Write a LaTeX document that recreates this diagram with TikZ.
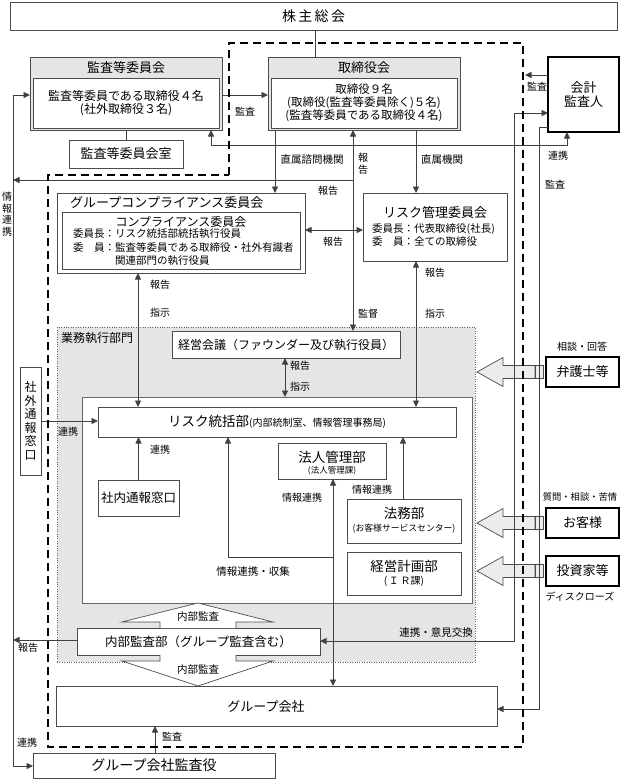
\documentclass[tikz,border=0pt]{standalone}
\usepackage{fontspec}
\setmainfont{Noto Sans CJK JP}
\usetikzlibrary{arrows.meta}
\newcommand\fsz[2]{\fontsize{#1}{#2}\selectfont}
\begin{document}
\begin{tikzpicture}[x=1pt,y=-1pt,
  ln/.style={draw=black!75, line width=0.8pt},
  box/.style={draw=black!70, line width=0.8pt, fill=white, inner sep=0pt, outer sep=0pt, align=center},
  hbox/.style={box, fill=gray!20},
  tbox/.style={box, draw=black, line width=1.8pt},
  txt/.style={inner sep=0pt, align=center},
  lab/.style={inner sep=0pt, align=center, font=\fsz{10}{12}},
  arr/.style={ln, -{Triangle[length=6.5pt,width=6pt]}},
  darr/.style={ln, {Triangle[length=6.5pt,width=6pt]}-{Triangle[length=6.5pt,width=6pt]}},
  bigarr/.style={draw=black!70, fill=gray!15, line width=0.7pt},
  naiarr/.style={draw=black!70, fill=white, line width=0.7pt},
  bound/.style={draw=black, line width=2.5pt, dash pattern=on 8pt off 5pt}
]
\useasboundingbox (0,0) rectangle (620,779);

% business execution region
\node[draw=black!60, dotted, fill=gray!20, minimum width=418pt, minimum height=335pt, inner sep=0pt] (gyomu) at (266,494.5) {};
\node[txt, anchor=west, font=\fsz{12}{14}] (gyomuT) at (61,338) {業務執行部門};
\node[box, draw=black!60, minimum width=390pt, minimum height=206pt] (inner) at (277,500) {};

% top
\node[box, minimum width=607pt, minimum height=28pt, font=\fsz{14}{16}] (kabu) at (313.5,16) {株\,主\,総\,会};

\node[hbox, minimum width=192pt, minimum height=73pt] (kansa) at (126,93.5) {};
\node[txt, font=\fsz{13}{15}] (kansaT) at (126,68) {監査等委員会};
\node[box, minimum width=186pt, minimum height=50pt, font=\fsz{12}{13.5}] (kansaIn) at (126,103) {監査等委員である取締役４名\\(社外取締役３名)};
\node[box, minimum width=114pt, minimum height=28pt, font=\fsz{13}{15}] (shitsu) at (126,154) {監査等委員会室};

\node[hbox, minimum width=192pt, minimum height=73pt] (tori) at (364,93.5) {};
\node[txt, font=\fsz{13}{15}] (toriT) at (364,68) {取締役会};
\node[box, minimum width=186pt, minimum height=50pt, font=\fsz{11.5}{13}] (toriIn) at (364,103) {取締役９名\\(取締役(監査等委員除く)５名)\\(監査等委員である取締役４名)};

\node[tbox, minimum width=71pt, minimum height=75pt, font=\fsz{13}{14.5}] (kaikei) at (583.5,94.5) {会計\\監査人};

% compliance
\node[box, minimum width=248pt, minimum height=80pt] (gcomp) at (181,233) {};
\node[txt, anchor=west, font=\fsz{13}{15}] (gcompT) at (70,203) {グループコンプライアンス委員会};
\node[box, minimum width=238pt, minimum height=57pt] (gcompIn) at (181,240.5) {};
\node[txt, font=\fsz{12}{14}] (cT) at (181,222) {コンプライアンス委員会};
\node[txt, anchor=west, font=\fsz{10.5}{12}] (c1) at (73,234) {委員長：リスク統括部統括執行役員};
\node[txt, anchor=west, font=\fsz{10.5}{12}] (c2) at (73,248) {委　員：監査等委員である取締役・社外有識者};
\node[txt, anchor=west, font=\fsz{10.5}{12}] (c3) at (115,261) {関連部門の執行役員};

% risk committee
\node[box, minimum width=144pt, minimum height=68pt] (risk) at (435,227) {};
\node[txt, font=\fsz{13}{15}] (rT) at (435,213) {リスク管理委員会};
\node[txt, anchor=west, font=\fsz{10.5}{12}] (r1) at (372,229) {委員長：代表取締役(社長)};
\node[txt, anchor=west, font=\fsz{10.5}{12}] (r2) at (372,242) {委　員：全ての取締役};

% execution
\node[box, minimum width=228pt, minimum height=27pt, font=\fsz{12}{14}] (keiei) at (286,344.5) {経営会議（ファウンダー及び執行役員）};
\node[box, minimum width=358pt, minimum height=30pt] (riskHQ) at (277,422) {{\fsz{13.5}{15}リスク統括部}{\fsz{10}{12}(内部統制室、情報管理事務局)}};
\node[box, minimum width=81pt, minimum height=36pt, font=\fsz{12.5}{14}] (shanai) at (138.5,498) {社内通報窓口};
\node[box, minimum width=108pt, minimum height=36pt] (hojin) at (332,461) {};
\node[txt, font=\fsz{13.5}{15}] (hojinA) at (332,457) {法人管理部};
\node[txt, font=\fsz{8.5}{10}] (hojinB) at (332,471) {(法人管理課)};
\node[box, minimum width=114pt, minimum height=44pt] (homu) at (404,521) {};
\node[txt, font=\fsz{13.5}{15}] (homuA) at (404,513) {法務部};
\node[txt, font=\fsz{8.8}{10}] (homuB) at (404,529) {(お客様サービスセンター)};
\node[box, minimum width=114pt, minimum height=43pt] (keikaku) at (404,573.5) {};
\node[txt, font=\fsz{13.5}{15}] (keikakuA) at (404,566) {経営計画部};
\node[txt, font=\fsz{10}{12}] (keikakuB) at (404,581) {(\,Ｉ\,Ｒ課)};

\node[box, minimum width=243pt, minimum height=27pt, font=\fsz{12.5}{14}] (naibu) at (198.5,641.5) {内部監査部（グループ監査含む）};
\node[box, minimum width=441pt, minimum height=40pt] (group) at (276.5,706) {};
\node[txt, font=\fsz{13}{15}] (groupT) at (266,707) {グループ会社};
\node[box, minimum width=242pt, minimum height=25pt, font=\fsz{14}{16}] (gkansa) at (154,765.5) {グループ会社監査役};
\node[box, minimum width=21pt, minimum height=108pt, font=\fsz{12}{13.5}] (shagai) at (30.5,421) {社\\外\\通\\報\\窓\\口};

% external parties
\node[tbox, minimum width=73pt, minimum height=30pt, font=\fsz{13}{15}] (bengo) at (582.5,372) {弁護士等};
\node[tbox, minimum width=73pt, minimum height=30pt, font=\fsz{13}{15}] (okyaku) at (582.5,523) {お客様};
\node[tbox, minimum width=73pt, minimum height=30pt, font=\fsz{13}{15}] (toshi) at (582.5,571) {投資家等};

% big hollow arrows
\foreach \b in {bengo,okyaku,toshi}{
  \draw[bigarr, shift={(\b.west)}] (-69,0) -- (-43,-14.5) -- (-43,-6.5) -- (-11,-6.5) -- (-11,6.5) -- (-43,6.5) -- (-43,14.5) -- cycle;
  \draw[bigarr, shift={(\b.west)}] (-11,-6.5) rectangle (-3,6.5);
}

% internal audit arrows
\draw[naiarr] (naibu.north -| 160,0) -- (160,622) -- (122,622) -- (198,603) -- (273,622) -- (236,622) -- (naibu.north -| 236,0);
\draw[naiarr] (naibu.south -| 160,0) -- (160,661) -- (122,661) -- (198,686) -- (273,661) -- (236,661) -- (naibu.south -| 236,0);

% connectors
\coordinate (bd) at (525,75);
\coordinate (tapR) at (353,180);
\coordinate (tapL) at (13,180);
\coordinate (jc) at (333,557);
\coordinate (lft) at (13,640);

\draw[ln] (kabu.south -| 315,0) -- (tori.north -| 315,0);
\draw[ln] (kansa.south) -- (shitsu.north);
\draw[arr] (kansa.east |- 0,95) -- (tori.west |- 0,95);
\draw[darr] (kaikei.south -| 567,0) -- (567,145) -| (kansa.south -| 211,0);
\draw[arr] (kaikei.west |- 0,75) -- (bd);
\draw[darr] (kaikei.west |- 0,113) -- (514,113) -- (514,641) -- (naibu.east |- 0,641);
\draw[arr] (kaikei.west |- 0,127) -- (539,127) -- (539,709) -- (group.east |- 0,709);
\draw[darr] (kansa.west |- 0,95) -- (13,95) -- (13,766) -- (gkansa.west |- 0,766);
\draw[arr] (tapR) -- (tapL);
\draw[darr] (tori.south -| 353,0) -- (keiei.north -| 353,0);
\draw[arr] (tori.south -| 275,0) -- (gcomp.north -| 275,0);
\draw[arr] (tori.south -| 416,0) -- (risk.north -| 416,0);
\draw[darr] (gcomp.east |- 0,230) -- (risk.west |- 0,230);
\draw[darr] (gcomp.south -| 138,0) -- (riskHQ.north -| 138,0);
\draw[darr] (risk.south -| 416,0) -- (riskHQ.north -| 416,0);
\draw[darr] (keiei.south -| 285,0) -- (inner.north -| 285,0);
\draw[arr] (shagai.east |- 0,421) -- (riskHQ.west |- 0,421);
\draw[arr] (shanai.north) -- (riskHQ.south -| shanai.north);
\draw[arr] (homu.north -| 403,0) -- (riskHQ.south -| 403,0);
\draw[darr] (hojin.south -| 333,0) -- (group.north -| 333,0);
\draw[arr] (jc) -- (228,557) -- (riskHQ.south -| 228,0);
\draw[arr] (naibu.west |- lft) -- (lft);
\draw[arr] (gkansa.north -| 155,0) -- (group.south -| 155,0);

% labels
\node[lab] (l1) at (245,112) {監査};
\node[lab] (l2) at (558,156) {連携};
\node[lab] (l3) at (537,87) {監査};
\node[lab] (l4) at (555,185) {監査};
\node[lab, font=\fsz{10.5}{12}] (l5) at (436,633) {連携・意見交換};
\node[lab, font=\fsz{10}{11.5}] (l6) at (7,214) {情\\報\\連\\携};
\node[lab] (l7) at (27,743) {連携};
\node[lab] (l8) at (328,191) {報告};
\node[lab, font=\fsz{10}{12}] (l9) at (363,164) {報\\告};
\node[lab] (l10) at (368,314) {監督};
\node[lab, font=\fsz{10.5}{12}] (l11) at (312,160) {直属諮問機関};
\node[lab, font=\fsz{10.5}{12}] (l12) at (442,160) {直属機関};
\node[lab] (l13) at (333,242) {報告};
\node[lab] (l14) at (160,285) {報告};
\node[lab] (l15) at (160,313) {指示};
\node[lab] (l16) at (435,273) {報告};
\node[lab] (l17) at (435,314) {指示};
\node[lab] (l18) at (300,366) {報告};
\node[lab] (l19) at (300,387) {指示};
\node[lab] (l20) at (68,432) {連携};
\node[lab] (l21) at (160,450) {連携};
\node[lab] (l22) at (372,490) {情報連携};
\node[lab] (l23) at (302,498) {情報連携};
\node[lab, font=\fsz{10.5}{12}] (l24) at (253,572) {情報連携・収集};
\node[lab] (l25) at (28,648) {報告};
\node[lab] (l26) at (172,737) {監査};
\node[lab, font=\fsz{10.5}{12}] (l27) at (198,617) {内部監査};
\node[lab, font=\fsz{10.5}{12}] (l28) at (198,670) {内部監査};
\node[lab] (l29) at (582,347) {相談・回答};
\node[lab, font=\fsz{9.3}{11}] (l30) at (580,497) {質問・相談・苦情};
\node[lab] (l31) at (580,597) {ディスクローズ};

% board boundary
\draw[bound] (229,175) -- (229,43) -- (523,43) -- (523,747) -- (48,747) -- (48,175) -- cycle;
\end{tikzpicture}
\end{document}
